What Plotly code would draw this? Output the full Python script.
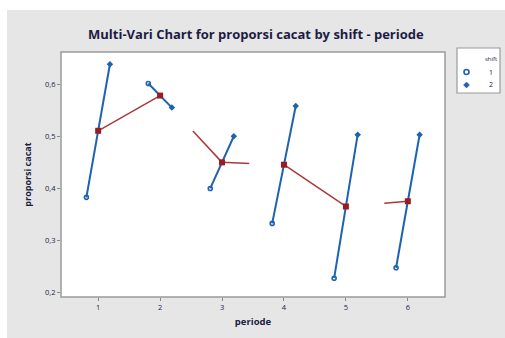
import plotly.graph_objects as go

# Multi-vari data: proportion of defects per period and shift
periode = [1, 2, 3, 4, 5, 6]
shift_1 = [0.383, 0.601, 0.400, 0.333, 0.228, 0.248]
shift_2 = [0.638, 0.555, 0.500, 0.558, 0.503, 0.503]
shift_names = ["1", "2"]
x_ticks = [1, 2, 3, 4, 5, 6]
y_ticks = [0.2, 0.3, 0.4, 0.5, 0.6]

# portion of each mean-to-mean connector that is drawn (start, end fraction)
connector_span = [(0.0, 1.0), (0.53, 1.0), (0.0, 0.44), (0.0, 1.0), (0.62, 1.0)]

offset = 0.19
BLUE = "#1E62B0"
RED_LINE = "#A83A3A"
RED_MARK = "#9A1C22"
TXT = "#1C1C44"
FONT = "Open Sans"

W, H = 505, 338
ML, MR, MT, MB = 61, 60, 52, 41
PW, PH = W - ML - MR, H - MT - MB


def px(x):
    return (x - ML) / PW


def py(y):
    return (H - MB - y) / PH


means = [(a + b) / 2 for a, b in zip(shift_1, shift_2)]

# blue shift segments, one per period
bx, by = [], []
for p, a, b in zip(periode, shift_1, shift_2):
    bx += [p - offset, p + offset, None]
    by += [a, b, None]

# red connectors between period means
rx, ry = [], []
for i, (f0, f1) in enumerate(connector_span):
    x0, x1 = periode[i], periode[i + 1]
    y0, y1 = means[i], means[i + 1]
    rx += [x0 + (x1 - x0) * f0, x0 + (x1 - x0) * f1, None]
    ry += [y0 + (y1 - y0) * f0, y0 + (y1 - y0) * f1, None]

fig = go.Figure()
fig.add_trace(go.Scatter(x=rx, y=ry, mode="lines",
                         line=dict(color=RED_LINE, width=1.5), hoverinfo="skip"))
fig.add_trace(go.Scatter(x=bx, y=by, mode="lines",
                         line=dict(color=BLUE, width=2), hoverinfo="skip"))
fig.add_trace(go.Scatter(x=[p - offset for p in periode], y=shift_1, mode="markers",
                         marker=dict(symbol="circle-open", size=4, color=BLUE,
                                     line=dict(width=1.6, color=BLUE)),
                         name=shift_names[0]))
fig.add_trace(go.Scatter(x=[p + offset for p in periode], y=shift_2, mode="markers",
                         marker=dict(symbol="diamond", size=5, color=BLUE),
                         name=shift_names[1]))
fig.add_trace(go.Scatter(x=periode, y=means, mode="markers",
                         marker=dict(symbol="square", size=6, color=RED_MARK)))

# outer grey panel and white framed data area
fig.add_shape(type="rect", xref="paper", yref="paper",
              x0=px(7), x1=px(W + 5), y0=py(H + 5), y1=py(10),
              fillcolor="#E6E6E6", line=dict(width=0), layer="below")
fig.add_shape(type="rect", xref="paper", yref="paper",
              x0=0, x1=1, y0=0, y1=1,
              fillcolor="white", line=dict(color="#9A9A9A", width=1.5), layer="below")

# legend box for the shift groups
fig.add_shape(type="rect", xref="paper", yref="paper",
              x0=px(457), x1=px(500), y0=py(93), y1=py(48),
              fillcolor="white", line=dict(color="#9A9A9A", width=1.2))
fig.add_shape(type="circle", xref="paper", yref="paper",
              x0=px(464), x1=px(469), y0=py(74.5), y1=py(69.5),
              fillcolor="white", line=dict(color=BLUE, width=1.6))
fig.add_shape(type="path", xref="paper", yref="paper",
              path=(f"M {px(466.5)} {py(82)} L {px(469.5)} {py(85)} "
                    f"L {px(466.5)} {py(88)} L {px(463.5)} {py(85)} Z"),
              fillcolor=BLUE, line=dict(color=BLUE, width=0.5))
legend_text = [("shift", 491, 59, 6), (shift_names[0], 491, 72, 7), (shift_names[1], 491, 85, 7)]
for t, lx, ly, fs in legend_text:
    fig.add_annotation(text=t, xref="paper", yref="paper", x=px(lx), y=py(ly),
                       xanchor="center", yanchor="middle", showarrow=False,
                       font=dict(family=FONT, size=fs, color=TXT))

fig.update_layout(
    width=W, height=H,
    margin=dict(l=ML, r=MR, t=MT, b=MB),
    paper_bgcolor="white", plot_bgcolor="rgba(0,0,0,0)",
    separators=",.",
    showlegend=False,
    font=dict(family=FONT, color=TXT, size=7),
    title=dict(text="<b>Multi-Vari Chart for proporsi cacat by shift - periode</b>",
               x=0.5075, xref="paper", xanchor="center",
               y=1 - 34 / H, yanchor="middle",
               font=dict(family=FONT, size=13, color=TXT)),
    xaxis=dict(range=[0.4, 6.6], tickvals=x_ticks, ticks="outside", ticklen=3,
               tickcolor="#888", showgrid=False, zeroline=False, showline=False,
               tickfont=dict(size=7.5, color=TXT),
               title=dict(text="<b>periode</b>", font=dict(size=9.5, color=TXT), standoff=7)),
    yaxis=dict(range=[0.192, 0.6615], tickvals=y_ticks, tickformat=".1f",
               ticks="outside", ticklen=3, tickcolor="#888",
               showgrid=False, zeroline=False, showline=False,
               tickfont=dict(size=7.5, color=TXT),
               title=dict(text="<b>proporsi cacat</b>", font=dict(size=9, color=TXT), standoff=11)),
)

fig.write_html("out.html")
